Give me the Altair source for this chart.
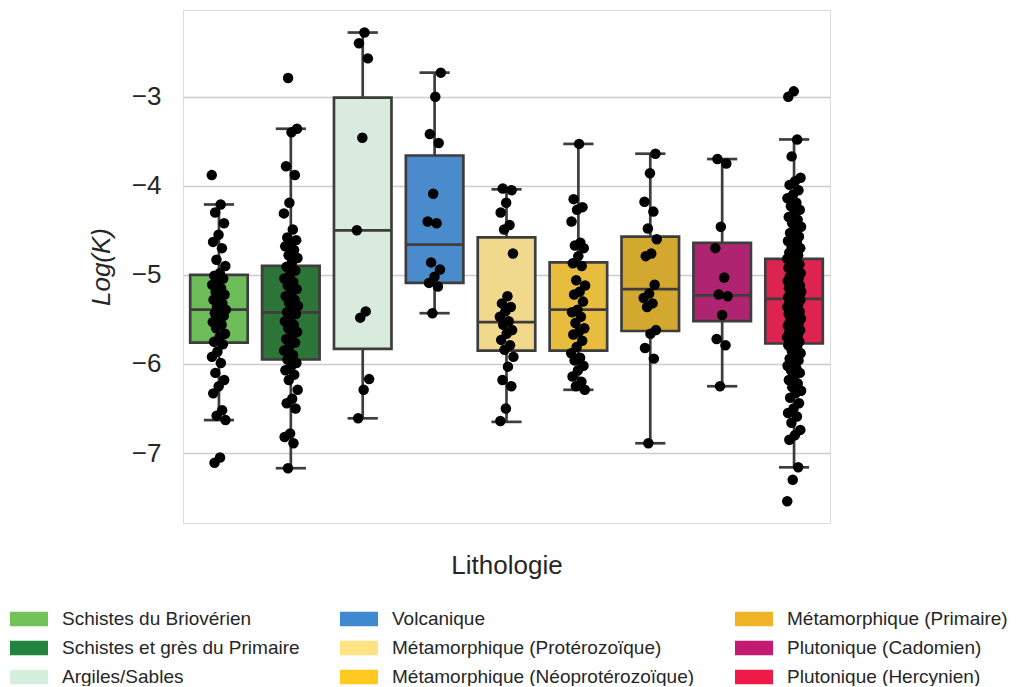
import altair as alt
import pandas as pd

categories = [
    "Schistes du Briovérien",
    "Schistes et grès du Primaire",
    "Argiles/Sables",
    "Volcanique",
    "Métamorphique (Protérozoïque)",
    "Métamorphique (Néoprotérozoïque)",
    "Métamorphique (Primaire)",
    "Plutonique (Cadomien)",
    "Plutonique (Hercynien)",
]
legend_colors = ["#72C25A", "#23853F", "#D5EEDD", "#4189CE", "#FDE381",
                 "#FFC91F", "#EEB425", "#C41A71", "#EE1A47"]
box_colors = ["#6DBE5A", "#2D7439", "#D9EBDF", "#4A8BCB", "#F0D98D",
              "#E8BC3C", "#D3A82E", "#AF2471", "#DD2450"]

# box statistics
q1 = [-5.76, -5.95, -5.83, -5.09, -5.85, -5.85, -5.63, -5.52, -5.77]
med = [-5.39, -5.42, -4.50, -4.66, -5.53, -5.39, -5.16, -5.23, -5.27]
q3 = [-5.00, -4.90, -3.01, -3.66, -4.58, -4.86, -4.57, -4.64, -4.82]
whisker_lo = [-6.63, -7.17, -6.61, -5.43, -6.65, -6.29, -6.89, -6.25, -7.16]
whisker_hi = [-4.21, -3.36, -2.28, -2.73, -4.04, -3.53, -3.64, -3.70, -3.48]

vals_briov = [-3.88, -4.21, -4.30, -4.42, -4.55, -4.63, -4.70, -4.83, -4.90, -4.98,
              -5.01, -5.04, -5.08, -5.11, -5.15, -5.19, -5.22, -5.24, -5.28, -5.32,
              -5.36, -5.39, -5.40, -5.43, -5.46, -5.51, -5.53, -5.56, -5.60, -5.66,
              -5.70, -5.75, -5.78, -5.86, -5.92, -5.99, -6.10, -6.18, -6.25, -6.33,
              -6.52, -6.58, -6.63, -7.05, -7.11]
vals_gres = [-2.79, -3.36, -3.40, -3.78, -3.88, -4.19, -4.31, -4.49, -4.58, -4.61,
             -4.66, -4.68, -4.72, -4.78, -4.81, -4.86, -4.91, -4.95, -5.00, -5.04,
             -5.08, -5.12, -5.16, -5.20, -5.24, -5.28, -5.31, -5.35, -5.39, -5.42,
             -5.44, -5.48, -5.52, -5.56, -5.60, -5.64, -5.68, -5.72, -5.76, -5.80,
             -5.85, -5.90, -5.95, -5.99, -6.03, -6.07, -6.12, -6.18, -6.29, -6.39,
             -6.44, -6.50, -6.78, -6.82, -6.89, -7.17]
vals_argiles = [-2.28, -2.40, -2.57, -3.46, -4.50, -5.41, -5.48, -6.17, -6.29, -6.61]
vals_volc = [-2.73, -3.00, -3.42, -3.52, -4.09, -4.40, -4.42, -4.86, -4.94, -5.02,
             -5.09, -5.13, -5.43]
vals_proter = [-4.03, -4.05, -4.19, -4.30, -4.44, -4.49, -4.76, -5.24, -5.32, -5.36,
               -5.41, -5.47, -5.52, -5.56, -5.62, -5.66, -5.73, -5.79, -5.84, -5.92,
               -6.03, -6.18, -6.25, -6.50, -6.64]
vals_neoprot = [-3.53, -4.15, -4.24, -4.27, -4.40, -4.64, -4.67, -4.70, -4.79, -4.87,
                -4.90, -5.06, -5.12, -5.19, -5.22, -5.30, -5.39, -5.42, -5.47, -5.54,
                -5.60, -5.64, -5.67, -5.74, -5.81, -5.88, -5.93, -5.96, -6.02, -6.07,
                -6.14, -6.20, -6.25, -6.29]
vals_primaire = [-3.64, -3.86, -4.18, -4.29, -4.48, -4.60, -4.76, -4.79, -5.11, -5.21,
                 -5.26, -5.32, -5.36, -5.62, -5.66, -5.82, -5.94, -6.89]
vals_cadom = [-3.70, -3.75, -4.46, -4.70, -5.03, -5.22, -5.24, -5.45, -5.72, -5.79, -6.25]
vals_hercyn = [-2.94, -3.00, -3.48, -3.67, -3.91, -3.95, -3.99, -4.05, -4.10, -4.14,
               -4.19, -4.23, -4.27, -4.31, -4.35, -4.38, -4.42, -4.46, -4.50, -4.53,
               -4.57, -4.60, -4.62, -4.64, -4.67, -4.70, -4.73, -4.75, -4.78, -4.80,
               -4.82, -4.84, -4.86, -4.88, -4.90, -4.92, -4.94, -4.96, -4.98, -5.00,
               -5.02, -5.04, -5.05, -5.07, -5.09, -5.10, -5.12, -5.13, -5.15, -5.16,
               -5.18, -5.19, -5.20, -5.22, -5.23, -5.24, -5.25, -5.26, -5.27, -5.28,
               -5.29, -5.31, -5.33, -5.34, -5.36, -5.38, -5.39, -5.41, -5.42, -5.44,
               -5.46, -5.47, -5.49, -5.50, -5.52, -5.54, -5.55, -5.57, -5.58, -5.60,
               -5.62, -5.63, -5.65, -5.67, -5.68, -5.70, -5.72, -5.73, -5.75, -5.77,
               -5.79, -5.82, -5.85, -5.88, -5.91, -5.94, -5.96, -5.99, -6.02, -6.05,
               -6.07, -6.10, -6.14, -6.18, -6.22, -6.26, -6.30, -6.33, -6.38, -6.44,
               -6.50, -6.55, -6.59, -6.66, -6.74, -6.80, -6.85, -7.16, -7.30, -7.54]
all_vals = [vals_briov, vals_gres, vals_argiles, vals_volc, vals_proter,
            vals_neoprot, vals_primaire, vals_cadom, vals_hercyn]

BOX_HALF = 0.4
CAP_HALF = 0.21
JIT = 0.1

box_df = pd.DataFrame({
    "cat": categories, "leg": categories, "idx": list(range(len(categories))),
    "q1": q1, "med": med, "q3": q3, "wlo": whisker_lo, "whi": whisker_hi,
})
box_df["left"] = box_df["idx"] - BOX_HALF
box_df["right"] = box_df["idx"] + BOX_HALF
box_df["cl"] = box_df["idx"] - CAP_HALF
box_df["cr"] = box_df["idx"] + CAP_HALF

rows = []
for i, (c, vs) in enumerate(zip(categories, all_vals)):
    for j, v in enumerate(vs):
        frac = (j * 0.6180339887 + i * 0.31) % 1.0
        rows.append({"cat": c, "val": v, "xp": i + (frac - 0.5) * 2 * JIT})
pts_df = pd.DataFrame(rows)

FONT = "Liberation Sans"
TXT = "#262626"
EDGE = "#3d3d3d"

xscale = alt.Scale(domain=[-0.5, 8.5], nice=False, zero=False)
yscale = alt.Scale(domain=[-7.785, -2.027], nice=False, zero=False)

xaxis = alt.Axis(title="Lithologie", labels=False, ticks=False, domain=False, grid=False,
                 titleFontSize=26, titleFont=FONT, titleFontWeight="normal",
                 titleColor=TXT, titlePadding=29)
yaxis = alt.Axis(title="Log(K)", values=[-7, -6, -5, -4, -3], format="d",
                 grid=True, gridColor="#cccccc", gridWidth=1.6,
                 domain=False, ticks=False, labelFontSize=26, labelFont=FONT,
                 labelColor=TXT, labelPadding=22,
                 titleFontSize=26, titleFont=FONT, titleFontStyle="italic",
                 titleFontWeight="normal", titleColor=TXT, titlePadding=17)

base_box = alt.Chart(box_df)

boxes = base_box.mark_bar(stroke=EDGE, strokeWidth=2.7).encode(
    x=alt.X("left:Q", scale=xscale, axis=xaxis),
    x2="right:Q",
    y=alt.Y("q1:Q", scale=yscale, axis=yaxis),
    y2="q3:Q",
    color=alt.Color("cat:N", scale=alt.Scale(domain=categories, range=box_colors), legend=None),
)
whisk_up = base_box.mark_rule(color=EDGE, strokeWidth=2.7).encode(
    x="idx:Q", y="q3:Q", y2="whi:Q")
whisk_lo = base_box.mark_rule(color=EDGE, strokeWidth=2.7).encode(
    x="idx:Q", y="wlo:Q", y2="q1:Q")
cap_hi = base_box.mark_rule(color=EDGE, strokeWidth=2.7).encode(
    x="cl:Q", x2="cr:Q", y="whi:Q")
cap_lo = base_box.mark_rule(color=EDGE, strokeWidth=2.7).encode(
    x="cl:Q", x2="cr:Q", y="wlo:Q")
medians = base_box.mark_rule(color=EDGE, strokeWidth=2.7).encode(
    x="left:Q", x2="right:Q", y="med:Q")

legend_layer = base_box.mark_square(opacity=0, size=1).encode(
    x="idx:Q", y="med:Q",
    fill=alt.Fill("leg:N", sort=categories,
                  scale=alt.Scale(domain=categories, range=legend_colors),
                  legend=alt.Legend(
                      title=None, orient="none", legendX=-173, legendY=590,
                      columns=3, symbolType="M-1,-0.38H1V0.38H-1Z", symbolSize=1444,
                      symbolOpacity=1, symbolStrokeWidth=0, labelFont=FONT,
                      labelFontSize=19, labelColor=TXT, labelOffset=14,
                      labelLimit=500, columnPadding=40, rowPadding=0)),
)

points = alt.Chart(pts_df).mark_circle(size=110, color="black", opacity=1).encode(
    x="xp:Q", y="val:Q")

chart = alt.layer(boxes, whisk_up, whisk_lo, cap_hi, cap_lo, medians, legend_layer, points).resolve_scale(
    color="independent", fill="independent"
).properties(
    width=647, height=513,
    autosize=alt.AutoSizeParams(type="none"),
    padding={"left": 175, "top": 2, "right": 178, "bottom": 163},
).configure_view(stroke="#cccccc", strokeWidth=2.5).configure(background="white")

chart.save("out.html", embed_options={"renderer": "svg", "actions": False})
